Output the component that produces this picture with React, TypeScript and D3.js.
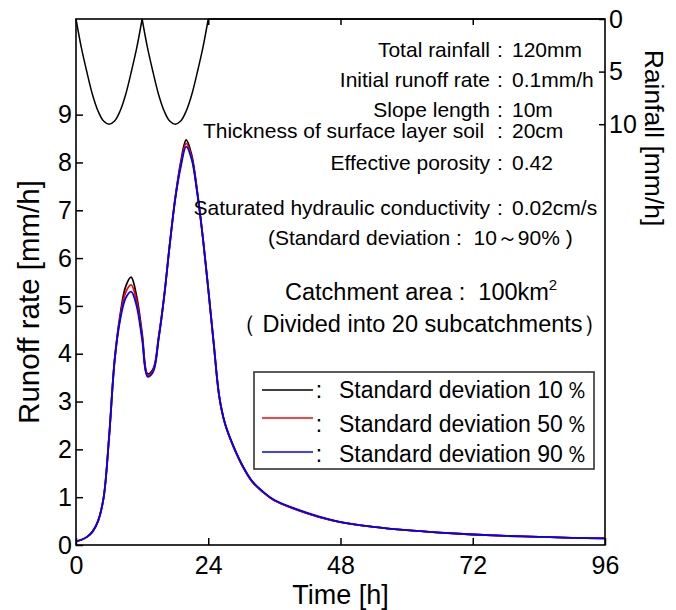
import { useEffect, useRef } from "react";
import * as d3 from "d3";

// runoff hydrograph
const hours = [0, 1, 2, 3, 4, 5, 6, 7, 8, 9, 10, 11, 12, 13, 14, 15, 16, 17, 18, 19, 20, 21, 22, 23, 24, 25, 26, 27, 28, 30, 32, 34, 36, 40, 44, 48, 54, 60, 66, 72, 78, 84, 90, 96];
const sd10 = [0.08, 0.11, 0.17, 0.28, 0.5, 0.98, 2.25, 3.85, 4.8, 5.4, 5.6, 5.2, 4.42, 3.58, 3.68, 4.35, 5.2, 6.27, 7.25, 8.0, 8.47, 8.15, 7.4, 6.45, 5.35, 4.2, 3.1, 2.55, 2.22, 1.7, 1.32, 1.1, 0.93, 0.74, 0.59, 0.48, 0.38, 0.31, 0.26, 0.22, 0.19, 0.17, 0.15, 0.14];
const sd50 = [0.08, 0.11, 0.17, 0.28, 0.5, 0.98, 2.25, 3.85, 4.75, 5.28, 5.44, 5.1, 4.36, 3.55, 3.65, 4.33, 5.2, 6.27, 7.24, 7.95, 8.4, 8.1, 7.38, 6.45, 5.35, 4.2, 3.1, 2.55, 2.22, 1.7, 1.32, 1.1, 0.93, 0.74, 0.59, 0.48, 0.38, 0.31, 0.26, 0.22, 0.19, 0.17, 0.15, 0.14];
const sd90 = [0.08, 0.11, 0.17, 0.28, 0.5, 0.98, 2.25, 3.85, 4.7, 5.16, 5.3, 5.0, 4.3, 3.52, 3.62, 4.31, 5.2, 6.27, 7.23, 7.9, 8.33, 8.06, 7.36, 6.45, 5.36, 4.21, 3.11, 2.56, 2.23, 1.71, 1.33, 1.11, 0.94, 0.75, 0.6, 0.48, 0.38, 0.31, 0.26, 0.22, 0.19, 0.17, 0.15, 0.14];

// hyetograph (right axis, reversed)
const rainHours = [0, 1, 2, 3, 4, 5, 6, 7, 8, 9, 10, 11, 12, 13, 14, 15, 16, 17, 18, 19, 20, 21, 22, 23, 24, 96];
const rainfall = [0, 2.8, 5.1, 7.2, 8.75, 9.7, 10, 9.7, 8.75, 7.2, 5.1, 2.8, 0, 2.8, 5.1, 7.2, 8.75, 9.7, 10, 9.7, 8.75, 7.2, 5.1, 2.8, 0, 0];

const timeTicks = [0, 24, 48, 72, 96];
const topTicks = [24, 48, 72];
const runoffTicks = [0, 1, 2, 3, 4, 5, 6, 7, 8, 9];
const rainTicks = [0, 5, 10];

const paramLabels = ["Total rainfall", "Initial runoff rate", "Slope length", "Thickness of surface layer soil\u00a0", "Effective porosity", "Saturated hydraulic conductivity"];
const paramValues = ["120mm", "0.1mm/h", "10m", "20cm", "0.42", "0.02cm/s"];
const paramBaselines = [57, 87, 117, 138, 170, 215];

const legendLabels = ["Standard deviation 10", "Standard deviation 50", "Standard deviation 90"];
const legendColors = ["#000000", "#ff0000", "#0000ff"];

const FONT = "'Liberation Sans', Arial, Helvetica, sans-serif";

const App = () => {
  const svgRef = useRef(null);

  useEffect(() => {
    const svg = d3.select(svgRef.current);
    svg.selectAll("*").remove();

    const left = 76, right = 605, top = 19, bottom = 545;
    const x = d3.scaleLinear().domain([0, 96]).range([left, right]);
    const y = d3.scaleLinear().domain([0, 11]).range([bottom, top]);
    const yRain = d3.scaleLinear().domain([0, 50]).range([top, bottom]);

    svg.attr("font-family", FONT);

    // runoff lines
    const series = [sd10, sd50, sd90];
    const line = d3.line().x((d) => x(d[0])).y((d) => y(d[1])).curve(d3.curveCatmullRom);
    series.forEach((s, i) => {
      svg.append("path")
        .attr("d", line(hours.map((h, j) => [h, s[j]])))
        .attr("fill", "none")
        .attr("stroke", legendColors[i])
        .attr("stroke-width", 1.8);
    });

    // rainfall: split into storm pieces so the cusps stay sharp
    const pieces = [];
    let cur = [];
    rainHours.forEach((h, i) => {
      cur.push([h, rainfall[i]]);
      if (rainfall[i] === 0 && cur.length > 1) {
        pieces.push(cur);
        cur = [[h, rainfall[i]]];
      }
    });
    const rainLine = d3.line().x((d) => x(d[0])).y((d) => yRain(d[1])).curve(d3.curveCatmullRom);
    pieces.forEach((p) => {
      svg.append("path")
        .attr("d", rainLine(p))
        .attr("fill", "none")
        .attr("stroke", "black")
        .attr("stroke-width", 1.5);
    });

    // axes
    const bottomAxis = svg.append("g")
      .attr("transform", `translate(0,${bottom})`)
      .call(d3.axisBottom(x).tickValues(timeTicks).tickSize(-7).tickSizeOuter(0).tickPadding(11));
    const topAxis = svg.append("g")
      .attr("transform", `translate(0,${top})`)
      .call(d3.axisTop(x).tickValues(topTicks).tickSize(-6).tickSizeOuter(0).tickFormat(() => ""));
    const leftAxis = svg.append("g")
      .attr("transform", `translate(${left},0)`)
      .call(d3.axisLeft(y).tickValues(runoffTicks).tickSize(-7).tickSizeOuter(0).tickPadding(4));
    const rightAxis = svg.append("g")
      .attr("transform", `translate(${right},0)`)
      .call(d3.axisRight(yRain).tickValues(rainTicks).tickSize(-6).tickSizeOuter(0).tickPadding(4));

    [bottomAxis, topAxis, leftAxis, rightAxis].forEach((a) => {
      a.select(".domain").remove();
      a.selectAll(".tick line").attr("stroke", "black").attr("stroke-width", 1.5);
      a.selectAll(".tick text")
        .attr("fill", "black")
        .style("font-size", "25px")
        .style("font-family", FONT);
    });

    // frame
    svg.append("rect")
      .attr("x", left)
      .attr("y", top)
      .attr("width", right - left)
      .attr("height", bottom - top)
      .attr("fill", "none")
      .attr("stroke", "black")
      .attr("stroke-width", 1.6);

    // axis titles
    svg.append("text")
      .attr("x", (left + right) / 2)
      .attr("y", 604)
      .attr("text-anchor", "middle")
      .style("font-size", "27px")
      .text("Time [h]");

    svg.append("text")
      .attr("transform", "translate(28,302) rotate(-90)")
      .attr("text-anchor", "middle")
      .attr("dominant-baseline", "central")
      .style("font-size", "29.5px")
      .text("Runoff rate [mm/h]");

    svg.append("text")
      .attr("transform", "translate(654,138) rotate(90)")
      .attr("text-anchor", "middle")
      .attr("dominant-baseline", "central")
      .style("font-size", "26.5px")
      .text("Rainfall [mm/h]");

    // parameter block
    paramLabels.forEach((lab, i) => {
      const by = paramBaselines[i];
      svg.append("text")
        .attr("x", 490)
        .attr("y", by)
        .attr("text-anchor", "end")
        .style("font-size", "21px")
        .text(lab);
      svg.append("text")
        .attr("x", 500)
        .attr("y", by)
        .attr("text-anchor", "middle")
        .style("font-size", "21px")
        .text(":");
      svg.append("text")
        .attr("x", 512)
        .attr("y", by)
        .style("font-size", "21px")
        .text(paramValues[i]);
    });

    svg.append("text")
      .attr("x", 268)
      .attr("y", 245)
      .style("font-size", "21px")
      .style("white-space", "pre")
      .text("(Standard deviation :  10～90% )");

    const area = svg.append("text")
      .attr("x", 285)
      .attr("y", 300)
      .style("font-size", "23.5px")
      .style("white-space", "pre")
      .text("Catchment area :  100km");
    area.append("tspan")
      .attr("dy", -10)
      .style("font-size", "15px")
      .text("2");

    svg.append("text")
      .attr("x", 232)
      .attr("y", 332)
      .style("font-size", "23.5px")
      .text("（ Divided into 20 subcatchments）");

    // legend
    svg.append("rect")
      .attr("x", 254)
      .attr("y", 372)
      .attr("width", 340)
      .attr("height", 97)
      .attr("fill", "white")
      .attr("stroke", "#333")
      .attr("stroke-width", 1.6);

    const lineY = [390, 418, 452];
    const textY = [398, 432, 462];
    legendLabels.forEach((lab, i) => {
      svg.append("line")
        .attr("x1", 262)
        .attr("x2", 313)
        .attr("y1", lineY[i])
        .attr("y2", lineY[i])
        .attr("stroke", legendColors[i])
        .attr("stroke-width", 1.6);
      svg.append("text")
        .attr("x", 319)
        .attr("y", textY[i])
        .attr("text-anchor", "middle")
        .style("font-size", "23px")
        .text(":");
      const t = svg.append("text")
        .attr("x", 339)
        .attr("y", textY[i])
        .style("font-size", "23px")
        .text(lab);
      t.append("tspan")
        .attr("dx", 2)
        .text("％");
    });
  }, []);

  return (
    <div style={{ position: "absolute", left: 0, top: 0 }}>
      <svg ref={svgRef} width={676} height={610}></svg>
    </div>
  );
};

export default App;
